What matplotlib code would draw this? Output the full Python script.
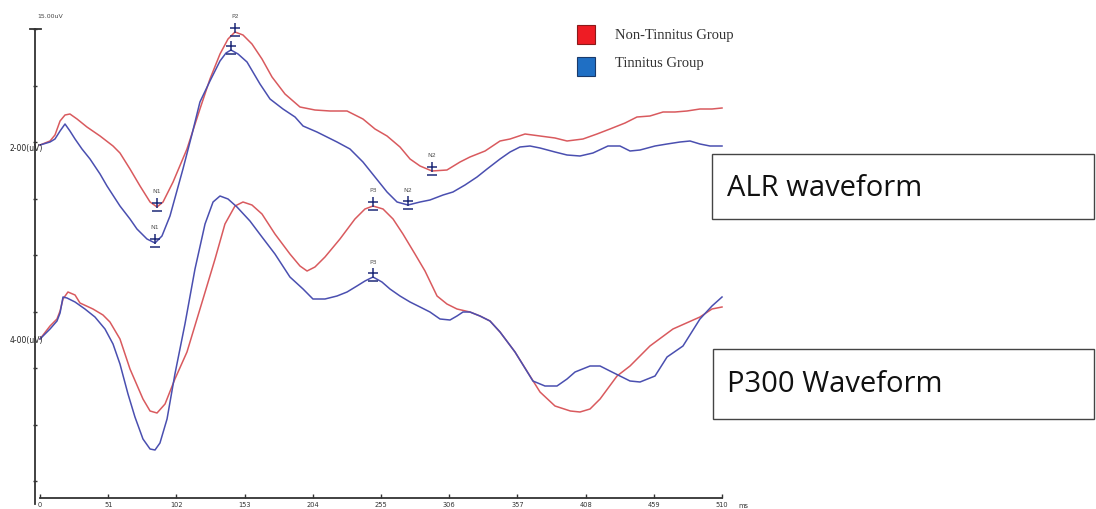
import numpy as np
import matplotlib.pyplot as plt
from matplotlib.patches import Rectangle

# latency (ms) and amplitude (uV) of the averaged waveforms
alr_ms_red = [0, 7.5, 11.2, 15.0, 18.7, 22.4, 27.7, 35.1, 44.9, 54.6, 59.8, 67.3, 74.8, 82.3, 87.5,
              92.0, 99.5, 109.9, 119.6, 127.1, 134.6, 140.6, 145.8, 151.8, 158.5, 166.0, 173.5,
              183.2, 194.4, 205.6, 216.9, 229.6, 241.5, 250.5, 259.5, 269.2, 276.7, 284.2, 293.1,
              304.3, 314.1, 321.5, 332.8, 344.0, 351.5, 362.7, 373.9, 385.1, 394.1, 406.0, 416.5,
              426.2, 437.5, 446.4, 456.1, 465.9, 474.8, 483.8, 493.5, 502.5, 510.0]
alr_uv_red = [0.2, 0.6, 1.2, 2.6, 3.2, 3.3, 2.8, 2.0, 1.1, 0.1, -0.6, -2.2, -3.9, -5.5, -6.0,
              -5.5, -3.5, -0.2, 3.8, 6.8, 9.3, 10.8, 11.5, 11.2, 10.3, 8.8, 7.0,
              5.3, 4.0, 3.7, 3.6, 3.6, 2.8, 1.8, 1.1, 0.0, -1.2, -1.9, -2.4,
              -2.3, -1.5, -1.0, -0.4, 0.6, 0.8, 1.3, 1.1, 0.9, 0.6, 0.8, 1.3,
              1.8, 2.4, 3.0, 3.1, 3.5, 3.5, 3.6, 3.8, 3.8, 3.9]

alr_ms_blue = [0, 7.5, 11.2, 15.0, 18.7, 22.4, 26.2, 31.4, 37.4, 44.9, 50.1, 59.8, 67.3, 72.5,
               80.0, 86.0, 91.2, 97.2, 106.9, 113.7, 119.6, 127.1, 134.6, 139.1, 142.8, 148.1,
               154.8, 164.5, 172.0, 181.7, 190.7, 196.7, 207.1, 222.1, 231.8, 241.5, 250.5,
               259.5, 267.0, 275.2, 284.2, 291.6, 301.4, 308.8, 317.8, 326.8, 334.3, 344.0,
               351.5, 358.9, 366.4, 373.9, 385.1, 394.1, 403.8, 413.5, 424.7, 433.7, 441.2,
               448.7, 459.9, 468.9, 478.6, 486.1, 493.5, 501.0, 510.0]
alr_uv_blue = [0.2, 0.5, 0.8, 1.6, 2.3, 1.6, 0.8, -0.2, -1.2, -2.7, -3.9, -5.9, -7.2, -8.2,
               -9.2, -9.6, -8.9, -6.9, -2.2, 1.3, 4.5, 6.6, 8.6, 9.4, 9.7, 9.3,
               8.5, 6.3, 4.8, 3.8, 3.0, 2.1, 1.5, 0.5, -0.2, -1.5, -3.0,
               -4.5, -5.5, -5.8, -5.5, -5.3, -4.8, -4.5, -3.8, -3.0, -2.2, -1.2,
               -0.5, 0.0, 0.1, -0.1, -0.5, -0.8, -0.9, -0.6, 0.1, 0.1, -0.4,
               -0.3, 0.1, 0.3, 0.5, 0.6, 0.3, 0.1, 0.1]

p300_ms_red = [0, 7.5, 12.7, 15.0, 17.2, 20.9, 26.2, 29.9, 39.6, 47.1, 52.3, 59.8, 67.3, 77.0,
               82.3, 87.5, 93.5, 100.9, 109.9, 121.9, 130.9, 138.3, 145.8, 151.8, 158.5, 166.0,
               175.7, 186.9, 194.4, 199.7, 205.6, 213.1, 224.3, 235.5, 243.0, 249.0, 256.5,
               264.0, 271.4, 280.4, 287.9, 296.9, 304.3, 311.8, 321.5, 329.0, 336.5, 344.0,
               355.2, 366.4, 373.9, 385.1, 396.6, 403.8, 411.3, 418.8, 431.5, 441.2, 456.1,
               473.3, 493.5, 502.5, 510.0]
p300_uv_red = [0.0, 1.3, 2.0, 2.8, 4.0, 4.7, 4.4, 3.6, 3.0, 2.4, 1.7, 0.0, -3.0, -6.0,
               -7.2, -7.4, -6.5, -4.0, -1.3, 4.0, 8.0, 11.5, 13.3, 13.7, 13.4, 12.5,
               10.5, 8.5, 7.3, 6.8, 7.2, 8.2, 10.0, 12.0, 13.0, 13.3, 13.0,
               12.0, 10.5, 8.5, 6.8, 4.3, 3.5, 3.0, 2.7, 2.3, 1.8, 0.7,
               -1.3, -3.7, -5.3, -6.7, -7.2, -7.3, -7.0, -6.0, -3.7, -2.7, -0.7,
               1.0, 2.2, 3.0, 3.2]

p300_ms_blue = [0, 7.5, 12.7, 15.0, 17.2, 20.2, 26.2, 33.6, 41.1, 48.6, 54.6, 59.8, 65.8, 71.0,
                77.0, 82.3, 86.0, 89.7, 95.0, 100.9, 108.4, 115.9, 123.4, 129.4, 134.6, 140.6,
                147.3, 157.0, 166.0, 175.7, 186.9, 196.7, 204.1, 213.1, 222.1, 229.6, 237.0,
                243.0, 249.0, 255.7, 261.7, 269.2, 276.7, 284.2, 291.6, 299.1, 306.6, 311.8,
                316.3, 321.5, 329.0, 336.5, 344.0, 355.2, 368.6, 377.6, 386.6, 394.1, 400.1,
                411.3, 418.8, 426.2, 433.7, 441.2, 448.7, 459.9, 468.9, 480.8, 493.5, 502.5,
                510.0]
p300_uv_blue = [0.0, 1.0, 1.8, 2.6, 4.2, 4.1, 3.7, 3.0, 2.2, 1.0, -0.5, -2.5, -5.5, -7.8,
                -10.0, -11.0, -11.1, -10.4, -8.0, -3.5, 1.5, 7.0, 11.5, 13.7, 14.3, 14.0,
                13.2, 11.8, 10.2, 8.5, 6.2, 5.0, 4.0, 4.0, 4.3, 4.7, 5.3,
                5.8, 6.2, 5.7, 5.0, 4.3, 3.7, 3.2, 2.7, 2.0, 1.9, 2.3,
                2.7, 2.7, 2.3, 1.8, 0.7, -1.3, -4.2, -4.7, -4.7, -4.0, -3.3,
                -2.7, -2.7, -3.2, -3.7, -4.2, -4.3, -3.7, -1.8, -0.7, 2.0, 3.3,
                4.2]

# peak picks: (latency ms, label or None)
alr_peaks_red = [(87.5, "N1"), (145.8, "P2"), (293.1, "N2")]
alr_peaks_blue = [(86.0, "N1"), (142.8, None), (275.2, "N2")]
p300_peaks_red = [(249.0, "P3")]
p300_peaks_blue = [(249.0, "P3")]

x_ticks = [0, 51, 102, 153, 204, 255, 306, 357, 408, 459, 510]
group_names = ["Non-Tinnitus Group", "Tinnitus Group"]

# channel baselines on the common display axis
alr_offset = 36.2
p300_offset = 17.0

red = "#d95a5e"
blue = "#4a4fb0"
pick_col = "#1e2a78"

fig = plt.figure(figsize=(10.96, 5.10), dpi=100)
ax = fig.add_axes([0, 0, 1, 1])
ax.set_xlim(-29.91, 789.65)
ax.set_ylim(0, 51)


def draw_trace(ms, uv, offset, color, peaks):
    y = np.array(uv) + offset
    ax.plot(ms, y, color=color, lw=1.1, zorder=3)
    ms = np.array(ms)
    for lat, name in peaks:
        i = np.argmin(np.abs(ms - lat))
        ax.plot(ms[i], y[i] + 0.45, marker="+", ms=7, mew=1.1, color=pick_col, zorder=4)
        ax.plot(ms[i], y[i] - 0.35, marker="_", ms=7, mew=1.1, color=pick_col, zorder=4)
        if name:
            ax.text(ms[i], y[i] + 1.6, name, fontsize=4.5, color="#555555",
                    ha="center", va="center")


draw_trace(alr_ms_red, alr_uv_red, alr_offset, red, alr_peaks_red)
draw_trace(alr_ms_blue, alr_uv_blue, alr_offset, blue, alr_peaks_blue)
draw_trace(p300_ms_red, p300_uv_red, p300_offset, red, p300_peaks_red)
draw_trace(p300_ms_blue, p300_uv_blue, p300_offset, blue, p300_peaks_blue)

# axes in the style of the recording software
for s in ["top", "right"]:
    ax.spines[s].set_visible(False)
ax.spines["left"].set_position(("data", -3.7))
ax.spines["left"].set_bounds(0.5, 48)
ax.spines["bottom"].set_position(("data", 1.1))
ax.spines["bottom"].set_bounds(0, 510)
for s in ["left", "bottom"]:
    ax.spines[s].set_color("#333333")
    ax.spines[s].set_linewidth(1.3)
ax.set_xticks(x_ticks)
ax.set_xticklabels([str(t) for t in x_ticks])
ax.set_yticks([48 - 5.65 * k for k in range(9)])
ax.set_yticklabels([])
ax.tick_params(axis="x", direction="in", length=3, width=1, colors="#333333",
               labelsize=4.8, pad=2)
ax.tick_params(axis="y", direction="inout", length=3, width=1, colors="#333333")
ax.plot([-7.5, 0.5], [48, 48], color="#333333", lw=1.3, clip_on=False)

ax.text(522, 0.4, "ms", fontsize=4.8, color="#333333", ha="left", va="center")
ax.text(-2, 49.4, "15.00uV", fontsize=4.5, color="#444444", ha="left", va="center")
ax.text(-23, alr_offset, "2-00(uV)", fontsize=5.5, color="#222222", ha="left", va="center")
ax.text(-23, p300_offset, "4-00(uV)", fontsize=5.5, color="#222222", ha="left", va="center")

# group key
fig.patches.append(Rectangle((577 / 1096, 1 - 45 / 510), 18 / 1096, 19 / 510,
                             transform=fig.transFigure, facecolor="#ee1c24",
                             edgecolor="#8a1a1a", lw=0.8))
fig.patches.append(Rectangle((577 / 1096, 1 - 77 / 510), 18 / 1096, 19 / 510,
                             transform=fig.transFigure, facecolor="#1f6fc4",
                             edgecolor="#1a3a6a", lw=0.8))
fig.text(615 / 1096, 1 - 35 / 510, group_names[0], family="Liberation Serif",
         fontsize=10.5, color="#333333", va="center")
fig.text(615 / 1096, 1 - 63 / 510, group_names[1], family="Liberation Serif",
         fontsize=10.5, color="#333333", va="center")

# waveform captions
fig.patches.append(Rectangle((712 / 1096, 1 - 220 / 510), 382 / 1096, 65 / 510,
                             transform=fig.transFigure, facecolor="white",
                             edgecolor="#444444", lw=1.0))
fig.patches.append(Rectangle((713 / 1096, 1 - 420 / 510), 381 / 1096, 70 / 510,
                             transform=fig.transFigure, facecolor="white",
                             edgecolor="#444444", lw=1.0))
fig.text(727 / 1096, 1 - 188 / 510, "ALR waveform", family="Open Sans",
         fontsize=21, color="#111111", va="center")
fig.text(727 / 1096, 1 - 385 / 510, "P300 Waveform", family="Open Sans",
         fontsize=21, color="#111111", va="center")

fig.savefig("out.png", dpi=100)
